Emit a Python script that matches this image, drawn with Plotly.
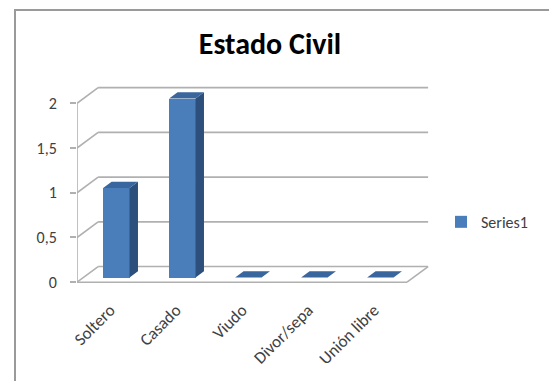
import plotly.graph_objects as go

# ---- data ----
categories = ["Soltero", "Casado", "Viudo", "Divor/sepa", "Unión libre"]
values = [1, 2, 0, 0, 0]
series_name = "Series1"
y_ticks = [0, 0.5, 1, 1.5, 2]
y_tick_labels = ["0", "0,5", "1", "1,5", "2"]
title_text = "Estado Civil"

# ---- pseudo-3D geometry (data units) ----
DX, DY = 0.32, 0.175          # depth vector of the floor / walls
F0, F1 = 0.30, 0.70           # bar depth span (fraction of floor depth)
BW = 0.40                     # bar width
n = len(categories)
ymax = max(y_ticks)

W, H = 549, 381
L, R, T, B = 77, 117, 78, 85   # margins in px
pw, ph = W - L - R, H - T - B
PX_X, PX_Y = 66.0, 92.0        # px per data unit
Y0PX = 288                     # pixel row of value 0 on the front plane
x_range = [0, pw / PX_X]
y_range = [-((H - B) - Y0PX) / PX_Y, (Y0PX - T) / PX_Y]

GRID = "#b0b0b0"
FRONT = "#4a7ebb"
SIDE = "#2d4f7c"
TOP = "#3a669e"

fig = go.Figure()

# walls / floor lines as shapes below the bars
shapes = []
def seg(x0, y0, x1, y1):
    shapes.append(dict(type="line", xref="x", yref="y", x0=x0, y0=y0, x1=x1, y1=y1,
                       line=dict(color=GRID, width=1.6), layer="below"))
for v in y_ticks:
    seg(0, v, DX, v + DY)              # left wall
    seg(DX, v + DY, n + DX, v + DY)    # back wall
seg(0, 0, n, 0)                        # floor front edge
seg(n, 0, n + DX, DY)                  # floor right edge
seg(0, 0, 0, ymax)                     # front vertical axis

# bars: front faces as Bar trace
base = F0 * DY
xc = [i + 0.5 + F0 * DX for i in range(n)]
fig.add_trace(go.Bar(x=xc, y=values, base=[base] * n, width=BW, name=series_name,
                     marker=dict(color=FRONT, line=dict(width=0)), showlegend=True))

ddx, ddy = (F1 - F0) * DX, (F1 - F0) * DY
sx, sy, tx, ty = [], [], [], []
for i, v in enumerate(values):
    xl = xc[i] - BW / 2
    xr = xc[i] + BW / 2
    top = base + v
    sx += [xr, xr + ddx, xr + ddx, xr, xr, None]
    sy += [base, base + ddy, top + ddy, top, base, None]
    tx += [xl, xr, xr + ddx, xl + ddx, xl, None]
    ty += [top, top, top + ddy, top + ddy, top, None]
fig.add_trace(go.Scatter(x=sx, y=sy, mode="lines", fill="toself", fillcolor=SIDE,
                         line=dict(width=0, color=SIDE), showlegend=False, hoverinfo="skip"))
fig.add_trace(go.Scatter(x=tx, y=ty, mode="lines", fill="toself", fillcolor=TOP,
                         line=dict(width=0, color=TOP), showlegend=False, hoverinfo="skip"))

font_family = "Carlito, Lato, 'Open Sans', sans-serif"

def px_to_paper(px, py):
    return (px - L) / pw, (H - B - py) / ph

x0p, y0p = px_to_paper(15, 8)
x1p, y1p = px_to_paper(600, 420)
shapes.append(dict(type="rect", xref="paper", yref="paper", x0=x0p, y0=y1p, x1=x1p, y1=y0p,
                   line=dict(color="#9a9a9a", width=2), layer="below"))

fig.update_layout(
    width=W, height=H,
    margin=dict(l=L, r=R, t=T, b=B),
    paper_bgcolor="white", plot_bgcolor="rgba(0,0,0,0)",
    font=dict(family=font_family, color="#404040", size=16),
    title=dict(text="<b>%s</b>" % title_text, x=270 / W, y=1 - 43 / H,
               xanchor="center", yanchor="middle", xref="container", yref="container",
               font=dict(size=30, color="#000000", family=font_family)),
    xaxis=dict(range=x_range, tickvals=[i + 0.5 for i in range(n)], ticktext=categories,
               tickangle=-45, showgrid=False, zeroline=False, showline=False, ticks="",
               ticklabelstandoff=6, tickfont=dict(size=17, color="#404040"), fixedrange=True),
    yaxis=dict(range=y_range, tickvals=y_ticks, ticktext=y_tick_labels, showgrid=False,
               zeroline=False, showline=False, ticks="outside", ticklen=6, tickcolor=GRID,
               tickwidth=1.5, ticklabelstandoff=10, tickfont=dict(size=16, color="#404040"),
               fixedrange=True),
    legend=dict(x=(441 - L) / pw, y=(H - B - 226) / ph, xanchor="left", yanchor="middle",
                font=dict(size=16, color="#404040"), bgcolor="rgba(0,0,0,0)", itemwidth=30),
    bargap=0,
    shapes=shapes,
    showlegend=True,
)

fig.write_html("out.html")
